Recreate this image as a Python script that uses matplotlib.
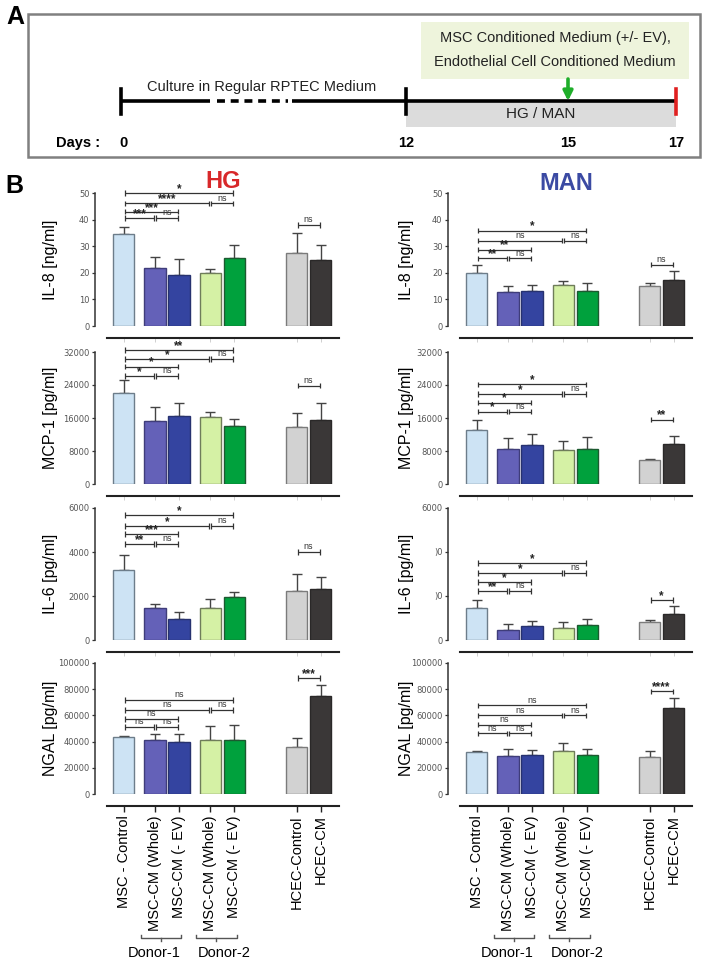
#!/usr/bin/env python3
"""Cytokine release by RPTEC under HG / MAN with conditioned media (panels A and B)."""

import matplotlib

matplotlib.use("Agg")
import matplotlib.pyplot as plt
import numpy as np
from matplotlib.patches import FancyArrowPatch, Rectangle
from matplotlib.transforms import blended_transform_factory

# ---------------------------------------------------------------- data
GROUPS = [
    "MSC - Control",
    "MSC-CM (Whole)",
    "MSC-CM (- EV)",
    "MSC-CM (Whole)",
    "MSC-CM (- EV)",
    "HCEC-Control",
    "HCEC-CM",
]
COLORS = ["#cde3f4", "#6461b8", "#3444a0", "#d5f1a5", "#00a13d", "#d2d2d2", "#3a3737"]
EDGES = ["#6d7d8a", "#3f3d7a", "#27326f", "#6f7d5a", "#1c5a30", "#7b7b7b", "#2a2828"]

ROWS = ["IL-8 [ng/ml]", "MCP-1 [pg/ml]", "IL-6 [pg/ml]", "NGAL [pg/ml]"]
YMAX = [50, 32000, 6000, 100000]
YSTEP = [10, 8000, 2000, 20000]

HG_IL8 = [34.5, 21.7, 19.1, 20.0, 25.4, 27.3, 24.8]
HG_IL8_ERR = [2.6, 4.1, 6.0, 1.4, 4.9, 7.5, 5.8]
HG_MCP1 = [22100, 15300, 16400, 16200, 14000, 13700, 15500]
HG_MCP1_ERR = [3100, 3300, 3300, 1200, 1700, 3500, 4200]
HG_IL6 = [3200, 1450, 940, 1470, 1950, 2220, 2310]
HG_IL6_ERR = [670, 180, 330, 410, 240, 790, 540]
HG_NGAL = [43400, 41600, 39800, 41100, 40900, 35500, 74600]
HG_NGAL_ERR = [1000, 4100, 5900, 10500, 11500, 6900, 8700]

MAN_IL8 = [20.0, 12.9, 13.0, 15.5, 13.3, 15.1, 17.4]
MAN_IL8_ERR = [2.9, 2.0, 2.4, 1.6, 2.8, 1.2, 3.2]
MAN_MCP1 = [13200, 8600, 9500, 8300, 8400, 5800, 9800]
MAN_MCP1_ERR = [2300, 2600, 2600, 2200, 3000, 250, 1800]
MAN_IL6 = [1450, 450, 650, 540, 690, 810, 1190]
MAN_IL6_ERR = [350, 300, 230, 300, 260, 80, 350]
MAN_NGAL = [32000, 29000, 29700, 32800, 29500, 28500, 66000]
MAN_NGAL_ERR = [800, 5400, 3600, 5900, 4600, 4300, 7500]

# significance brackets: (bar i, bar j, label, height)
HG_IL8_SIG = [(0, 4, "*", 50), (0, 3, "****", 46.2), (3, 4, "ns", 46.2), (0, 2, "***", 42.9),
              (0, 1, "***", 40.6), (1, 2, "ns", 40.6), (5, 6, "ns", 38)]
HG_MCP1_SIG = [(0, 4, "**", 32500), (0, 3, "*", 30300), (3, 4, "ns", 30300), (0, 2, "*", 28400),
               (0, 1, "*", 26200), (1, 2, "ns", 26200), (5, 6, "ns", 23800)]
HG_IL6_SIG = [(0, 4, "*", 5680), (0, 3, "*", 5180), (3, 4, "ns", 5180), (0, 2, "***", 4820),
              (0, 1, "**", 4360), (1, 2, "ns", 4360), (5, 6, "ns", 4000)]
HG_NGAL_SIG = [(0, 4, "ns", 71800), (0, 3, "ns", 64100), (3, 4, "ns", 64100), (0, 2, "ns", 57300),
               (0, 1, "ns", 51100), (1, 2, "ns", 51100), (5, 6, "***", 88500)]
MAN_IL8_SIG = [(0, 4, "*", 35.8), (0, 3, "ns", 32.1), (3, 4, "ns", 32.1), (0, 2, "**", 28.7),
               (0, 1, "**", 25.4), (1, 2, "ns", 25.4), (5, 6, "ns", 23.1)]
MAN_MCP1_SIG = [(0, 4, "*", 24200), (0, 3, "*", 21800), (3, 4, "ns", 21800), (0, 2, "*", 19700),
                (0, 1, "*", 17500), (1, 2, "ns", 17500), (5, 6, "**", 15600)]
MAN_IL6_SIG = [(0, 4, "*", 3500), (0, 3, "*", 3050), (3, 4, "ns", 3050), (0, 2, "*", 2640),
               (0, 1, "**", 2230), (1, 2, "ns", 2230), (5, 6, "*", 1820)]
MAN_NGAL_SIG = [(0, 4, "ns", 67700), (0, 3, "ns", 60000), (3, 4, "ns", 60000), (0, 2, "ns", 53000),
                (0, 1, "ns", 46200), (1, 2, "ns", 46200), (5, 6, "****", 78500)]

HG = [(HG_IL8, HG_IL8_ERR, HG_IL8_SIG), (HG_MCP1, HG_MCP1_ERR, HG_MCP1_SIG),
      (HG_IL6, HG_IL6_ERR, HG_IL6_SIG), (HG_NGAL, HG_NGAL_ERR, HG_NGAL_SIG)]
MAN = [(MAN_IL8, MAN_IL8_ERR, MAN_IL8_SIG), (MAN_MCP1, MAN_MCP1_ERR, MAN_MCP1_SIG),
       (MAN_IL6, MAN_IL6_ERR, MAN_IL6_SIG), (MAN_NGAL, MAN_NGAL_ERR, MAN_NGAL_SIG)]

DAYS = [0, 12, 15, 17]

# ---------------------------------------------------------------- layout (pixels)
W, H = 709, 959
POS = np.array([0, 1.3, 2.3, 3.6, 4.6, 7.2, 8.2])
BAR_W = 0.88
XLIM = (-1.2, 9.0)
UNIT_PX = 24.0
ROW_PX = [(326, 193), (484, 352), (640, 508), (794, 663)]  # (y of zero, y of max)
COL_X = [95, 448]

plt.rcParams["font.family"] = ["Liberation Sans", "DejaVu Sans"]

fig = plt.figure(figsize=(W / 100, H / 100), dpi=100)
fig.patch.set_facecolor("white")

# overlay axes in pixel units for panel A and headings
ov = fig.add_axes([0, 0, 1, 1])
ov.set_xlim(0, W)
ov.set_ylim(H, 0)
ov.axis("off")

ov.add_patch(Rectangle((28, 14), 672, 143, fill=False, edgecolor="#808080", linewidth=1.8))
ov.text(6, 17, "A", fontsize=18, fontweight="bold", ha="left", va="center")


def day_x(d):
    # broken time axis: 0 -> 121 px, 12..17 at 54 px/day
    return 121 if d == 0 else 406 + (d - 12) * 54


ov.add_patch(Rectangle((421, 22), 268, 57, facecolor="#eef4dc", edgecolor="none"))
ov.text(555, 38, "MSC Conditioned Medium (+/- EV),", ha="center", va="center",
        fontsize=10.5, color="#222222")
ov.text(555, 62, "Endothelial Cell Conditioned Medium", ha="center", va="center",
        fontsize=10.5, color="#222222")
ov.add_patch(Rectangle((day_x(12), 101), day_x(17) - day_x(12), 26,
                       facecolor="#dcdcdc", edgecolor="none"))
ov.text((day_x(12) + day_x(17)) / 2, 114, "HG / MAN", ha="center", va="center",
        fontsize=11, color="#222222")

ov.plot([day_x(0), 210], [101, 101], color="black", lw=2.6, solid_capstyle="butt")
ov.plot([217, 288], [101, 101], color="black", lw=2.6, dashes=(2.2, 1.6))
ov.plot([292, day_x(17)], [101, 101], color="black", lw=2.6, solid_capstyle="butt")
for d in (0, 12):
    ov.plot([day_x(d), day_x(d)], [89, 114], color="black", lw=2.6)
ov.plot([day_x(17), day_x(17)], [89, 114], color="#e02020", lw=2.6)
ov.add_patch(FancyArrowPatch((day_x(15), 79), (day_x(15), 101), arrowstyle="-|>",
                             mutation_scale=14, color="#1fae2a", lw=2.6,
                             shrinkA=0, shrinkB=0))
ov.text(262, 87, "Culture in Regular RPTEC Medium", ha="center", va="center",
        fontsize=10.5, color="#222222")
ov.text(100, 143, "Days :", ha="right", va="center", fontsize=10.5, fontweight="bold")
for d in DAYS:
    ov.text(day_x(d) + (3 if d == 0 else 0), 143, str(d), ha="center", va="center",
            fontsize=10.5, fontweight="bold")

ov.text(5, 186, "B", fontsize=18, fontweight="bold", ha="left", va="center")
ov.text(223, 182, "HG", fontsize=17, fontweight="bold", color="#d8282a",
        ha="center", va="center")
ov.text(566, 184, "MAN", fontsize=17, fontweight="bold", color="#3b4aa3",
        ha="center", va="center")


def bracket(ax, x1, x2, y, label, px):
    h = 2.6 * px
    kw = dict(color="#333333", lw=0.9, clip_on=False, solid_capstyle="butt")
    ax.plot([x1, x2], [y, y], **kw)
    ax.plot([x1, x1], [y - h, y + h], **kw)
    ax.plot([x2, x2], [y - h, y + h], **kw)
    if label == "ns":
        ax.text((x1 + x2) / 2, y + 0.6 * px, label, ha="center", va="bottom",
                fontsize=6.5, color="#333333", clip_on=False)
    else:
        ax.text((x1 + x2) / 2, y - 1.8 * px, label, ha="center", va="bottom",
                fontsize=8.5, fontweight="bold", color="#222222", clip_on=False)


for c, column in enumerate([HG, MAN]):
    for r, (vals, errs, sigs) in enumerate(column):
        y0, y1 = ROW_PX[r]
        left = COL_X[c] / W
        width = (XLIM[1] - XLIM[0]) * UNIT_PX / W
        ax = fig.add_axes([left, 1 - y0 / H, width, (y0 - y1) / H])
        ax.set_xlim(*XLIM)
        ax.set_ylim(0, YMAX[r])
        ax.patch.set_alpha(0)
        px = YMAX[r] / (y0 - y1)  # data units per pixel

        ax.errorbar(POS, vals, yerr=[np.zeros(len(vals)), errs], fmt="none",
                    ecolor="#444444", elinewidth=1.0, capsize=3.5, capthick=1.0, zorder=2)
        ax.bar(POS, vals, width=BAR_W, color=COLORS, edgecolor=EDGES, linewidth=1.0, zorder=3)

        for i, j, label, y in sigs:
            bracket(ax, POS[i] + 0.04, POS[j] - 0.04, y, label, px)

        for s in ("top", "right"):
            ax.spines[s].set_visible(False)
        ax.spines["left"].set_bounds(0, YMAX[r])
        ax.spines["left"].set_color("#333333")
        ax.spines["left"].set_linewidth(1.1)
        ax.spines["bottom"].set_position(("outward", 8.3))
        ax.spines["bottom"].set_bounds(-0.7, 8.95)
        ax.spines["bottom"].set_linewidth(1.5)
        ax.spines["bottom"].set_color("#222222")

        ticks = np.arange(0, YMAX[r] + 1, YSTEP[r])
        ax.set_yticks(ticks)
        tick_labels = [str(int(t)) for t in ticks]
        if c == 1 and r == 2:
            tick_labels = ["0", ")0", ")0", "6000"]
        ax.set_yticklabels(tick_labels, family="DejaVu Sans")
        ax.tick_params(axis="y", length=2.5, width=0.9, pad=1.5, labelsize=6,
                       labelcolor="#555555", color="#333333")
        ax.set_xticks(POS)
        if r == 3:
            ax.set_xticklabels(GROUPS, rotation=90, fontsize=10.5)
            ax.tick_params(axis="x", length=4, width=1.0, pad=3, color="#222222")
        else:
            ax.set_xticklabels([])
            ax.tick_params(axis="x", length=3, width=0.6, color="#c8c8c8")

        fig.text((COL_X[c] - (45 if c == 0 else 41)) / W, 1 - (y0 + y1) / 2 / H, ROWS[r],
                 rotation=90, ha="center", va="center", fontsize=11.5)

        if r == 3:
            tr = blended_transform_factory(ax.transData, ax.transAxes)
            yb = -(938 - y0) / (y0 - y1)
            hb = 3 / (y0 - y1)
            for k, (a, b) in enumerate([(1, 2), (3, 4)]):
                xa, xb = POS[a] - 0.6, POS[b] + 0.1
                ax.plot([xa, xa, xb, xb], [yb + hb, yb, yb, yb + hb], color="#555555",
                        lw=1.0, transform=tr, clip_on=False)
                xm = (xa + xb) / 2
                ax.plot([xm, xm], [yb, yb - hb], color="#555555", lw=1.0,
                        transform=tr, clip_on=False)
                shift = -0.3 if k == 0 else 0.35
                ax.text(xm + shift, yb - 5 * hb, "Donor-%d" % (k + 1), transform=tr,
                        ha="center", va="center", fontsize=10.5)

fig.savefig("out.png", dpi=100)
